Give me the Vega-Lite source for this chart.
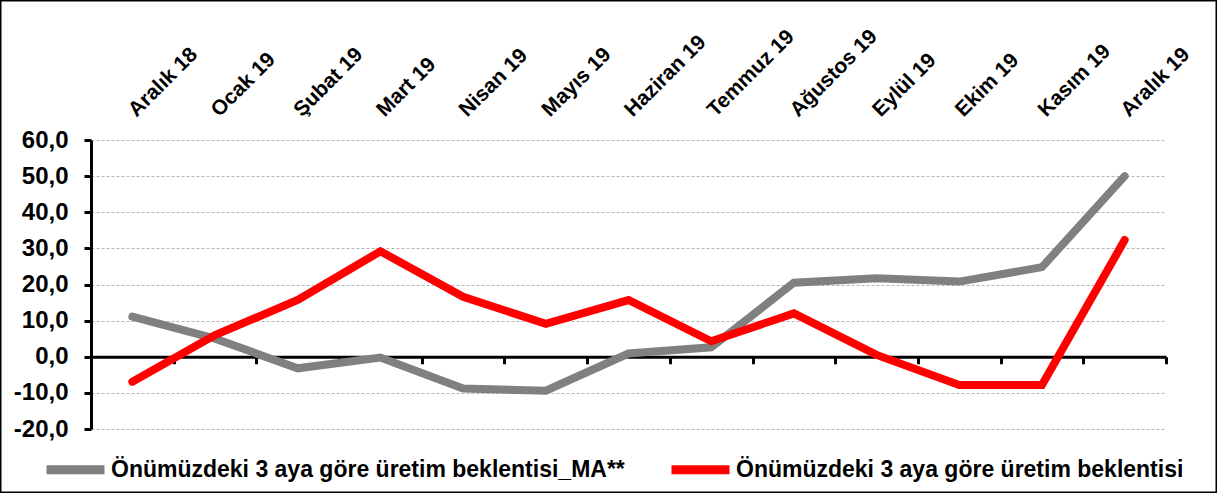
{
  "$schema": "https://vega.github.io/schema/vega-lite/v6.json",
  "width": 1217,
  "height": 493,
  "autosize": {"type": "none"},
  "padding": 0,
  "background": "white",
  "config": {
    "locale": {"number": {"decimal": ",", "thousands": ".", "grouping": [3], "currency": ["", " TL"], "minus": "-"}},
    "view": {"stroke": "black", "strokeWidth": 3},
    "font": "Liberation Sans"
  },
  "data": {"values": [
    {"ay": "Aralık 18", "seri": "Önümüzdeki 3 aya göre üretim beklentisi_MA**", "deger": 11.1},
    {"ay": "Ocak 19", "seri": "Önümüzdeki 3 aya göre üretim beklentisi_MA**", "deger": 5.0},
    {"ay": "Şubat 19", "seri": "Önümüzdeki 3 aya göre üretim beklentisi_MA**", "deger": -3.2},
    {"ay": "Mart 19", "seri": "Önümüzdeki 3 aya göre üretim beklentisi_MA**", "deger": -0.2},
    {"ay": "Nisan 19", "seri": "Önümüzdeki 3 aya göre üretim beklentisi_MA**", "deger": -8.8},
    {"ay": "Mayıs 19", "seri": "Önümüzdeki 3 aya göre üretim beklentisi_MA**", "deger": -9.4},
    {"ay": "Haziran 19", "seri": "Önümüzdeki 3 aya göre üretim beklentisi_MA**", "deger": 0.9},
    {"ay": "Temmuz 19", "seri": "Önümüzdeki 3 aya göre üretim beklentisi_MA**", "deger": 2.6},
    {"ay": "Ağustos 19", "seri": "Önümüzdeki 3 aya göre üretim beklentisi_MA**", "deger": 20.5},
    {"ay": "Eylül 19", "seri": "Önümüzdeki 3 aya göre üretim beklentisi_MA**", "deger": 21.7},
    {"ay": "Ekim 19", "seri": "Önümüzdeki 3 aya göre üretim beklentisi_MA**", "deger": 20.8},
    {"ay": "Kasım 19", "seri": "Önümüzdeki 3 aya göre üretim beklentisi_MA**", "deger": 24.8},
    {"ay": "Aralık 19", "seri": "Önümüzdeki 3 aya göre üretim beklentisi_MA**", "deger": 50.0},
    {"ay": "Aralık 18", "seri": "Önümüzdeki 3 aya göre üretim beklentisi", "deger": -6.9},
    {"ay": "Ocak 19", "seri": "Önümüzdeki 3 aya göre üretim beklentisi", "deger": 6.0},
    {"ay": "Şubat 19", "seri": "Önümüzdeki 3 aya göre üretim beklentisi", "deger": 15.7},
    {"ay": "Mart 19", "seri": "Önümüzdeki 3 aya göre üretim beklentisi", "deger": 29.2},
    {"ay": "Nisan 19", "seri": "Önümüzdeki 3 aya göre üretim beklentisi", "deger": 16.6},
    {"ay": "Mayıs 19", "seri": "Önümüzdeki 3 aya göre üretim beklentisi", "deger": 9.1},
    {"ay": "Haziran 19", "seri": "Önümüzdeki 3 aya göre üretim beklentisi", "deger": 15.7},
    {"ay": "Temmuz 19", "seri": "Önümüzdeki 3 aya göre üretim beklentisi", "deger": 4.3},
    {"ay": "Ağustos 19", "seri": "Önümüzdeki 3 aya göre üretim beklentisi", "deger": 12.0},
    {"ay": "Eylül 19", "seri": "Önümüzdeki 3 aya göre üretim beklentisi", "deger": 0.5},
    {"ay": "Ekim 19", "seri": "Önümüzdeki 3 aya göre üretim beklentisi", "deger": -7.8},
    {"ay": "Kasım 19", "seri": "Önümüzdeki 3 aya göre üretim beklentisi", "deger": -7.8},
    {"ay": "Aralık 19", "seri": "Önümüzdeki 3 aya göre üretim beklentisi", "deger": 32.3}
  ]},
  "resolve": {"axis": {"x": "independent", "y": "independent"}},
  "layer": [
    {
      "mark": {"type": "point", "opacity": 0},
      "encoding": {
        "x": {
          "field": "ay", "type": "nominal", "sort": null,
          "scale": {"type": "band", "range": [91, 1166], "paddingInner": 0, "paddingOuter": 0},
          "axis": {
            "orient": "bottom", "offset": -136.25, "title": null, "labels": false, "grid": false,
            "domainColor": "black", "domainWidth": 3,
            "tickBand": "extent", "tickColor": "black", "tickWidth": 3, "tickSize": 7
          }
        },
        "y": {
          "field": "deger", "type": "quantitative",
          "scale": {"domain": [-20, 60], "range": [429, 140], "nice": false, "zero": false},
          "axis": {
            "orient": "left", "offset": -91, "title": null,
            "values": [-20, -10, 0, 10, 20, 30, 40, 50, 60], "format": ".1f",
            "domainColor": "black", "domainWidth": 3,
            "tickColor": "black", "tickWidth": 3, "tickSize": 7,
            "labelFont": "Liberation Sans", "labelFontSize": 24, "labelFontWeight": "bold", "labelColor": "black", "labelPadding": 16,
            "grid": true, "gridColor": "#b4b4b4", "gridDash": [3, 2], "gridWidth": 1
          }
        }
      }
    },
    {
      "mark": {"type": "line", "strokeWidth": 8, "strokeCap": "round", "strokeJoin": "miter"},
      "encoding": {
        "x": {
          "field": "ay", "type": "nominal", "sort": null,
          "axis": {
            "orient": "top", "offset": -113, "title": null, "domain": false, "ticks": false, "grid": false,
            "labelAngle": -45, "labelAlign": "left", "labelBaseline": "middle", "labelPadding": 0,
            "labelFont": "Liberation Sans", "labelFontSize": 21, "labelFontWeight": "bold", "labelColor": "black",
            "labelOverlap": false, "labelFlush": false, "labelBound": false
          }
        },
        "y": {"field": "deger", "type": "quantitative", "axis": null},
        "color": {
          "field": "seri", "type": "nominal",
          "scale": {"domain": ["Önümüzdeki 3 aya göre üretim beklentisi_MA**", "Önümüzdeki 3 aya göre üretim beklentisi"], "range": ["#808080", "#ff0000"]},
          "legend": {
            "orient": "none", "legendX": 42, "legendY": 436, "direction": "horizontal", "title": null,
            "symbolType": "stroke", "symbolSize": 3364, "symbolStrokeWidth": 9,
            "labelFont": "Liberation Sans", "labelFontSize": 23, "labelFontWeight": "bold", "labelColor": "black",
            "labelOffset": 2, "columnPadding": 28, "labelLimit": 800
          }
        }
      }
    }
  ]
}
